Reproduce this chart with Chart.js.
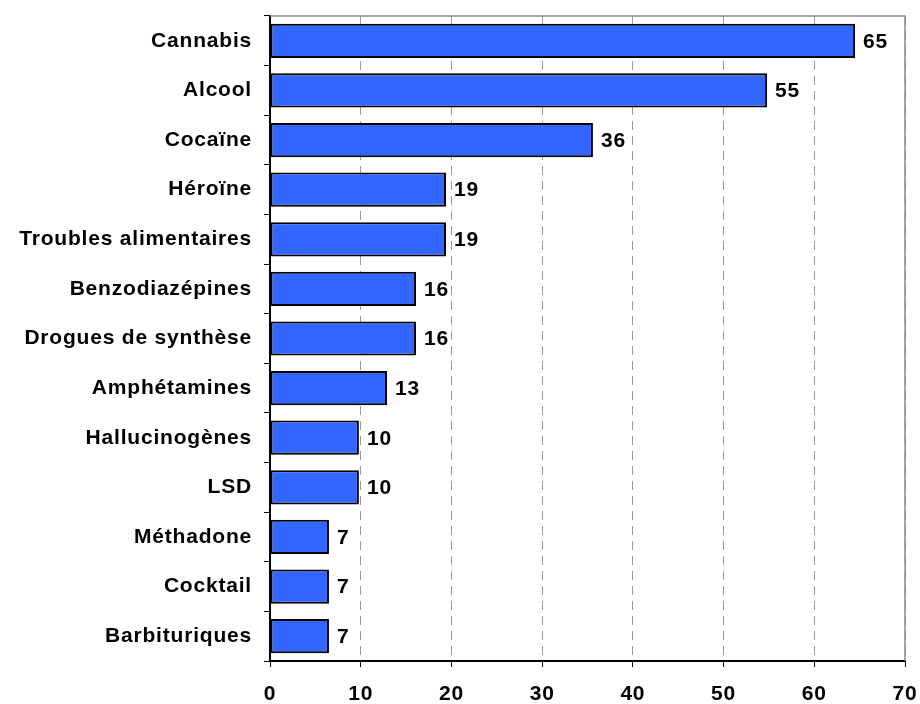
<!DOCTYPE html>
<html>
<head>
<meta charset="utf-8">
<script src="https://cdn.jsdelivr.net/npm/chart.js@4/dist/chart.umd.min.js"></script>
<style>
  html, body { margin: 0; padding: 0; background: #fff; }
  #wrap { width: 920px; height: 704px; }
</style>
</head>
<body>
<div id="wrap"><canvas id="chart" width="920" height="704"></canvas></div>
<script>
// catégories et valeurs (%)
const categories = ['Cannabis', 'Alcool', 'Cocaïne', 'Héroïne', 'Troubles alimentaires', 'Benzodiazépines',
  'Drogues de synthèse', 'Amphétamines', 'Hallucinogènes', 'LSD', 'Méthadone', 'Cocktail', 'Barbituriques'];
const values = [64.5, 54.8, 35.6, 19.4, 19.4, 16.1, 16.1, 12.9, 9.8, 9.8, 6.5, 6.5, 6.5];
const valueLabels = ['65', '55', '36', '19', '19', '16', '16', '13', '10', '10', '7', '7', '7'];
const xTicks = [0, 10, 20, 30, 40, 50, 60, 70];

const FONT = 'Arial, "Liberation Sans", sans-serif';

// léger espacement des lettres, comme l'original
const spacing = {
  id: 'spacing',
  beforeInit(chart) { chart.ctx.letterSpacing = '0.8px'; },
  beforeDraw(chart) { chart.ctx.letterSpacing = '0.8px'; }
};

// cadre gris du haut et de droite
const frame = {
  id: 'frame',
  beforeDatasetsDraw(chart) {
    const { ctx, chartArea: a } = chart;
    ctx.save();
    ctx.strokeStyle = '#8a8a8a';
    ctx.lineWidth = 1.5;
    ctx.beginPath();
    ctx.moveTo(a.left, a.top);
    ctx.lineTo(a.right, a.top);
    ctx.lineTo(a.right, a.bottom);
    ctx.stroke();
    ctx.restore();
  }
};

// étiquettes de valeur au bout des barres
const barLabels = {
  id: 'barLabels',
  afterDatasetsDraw(chart) {
    const { ctx } = chart;
    const meta = chart.getDatasetMeta(0);
    ctx.save();
    ctx.font = 'bold 21px ' + FONT;
    ctx.fillStyle = '#000';
    ctx.textBaseline = 'middle';
    ctx.textAlign = 'left';
    meta.data.forEach((bar, i) => {
      ctx.fillText(valueLabels[i], bar.x + 8, bar.y + 1);
    });
    ctx.restore();
  }
};

// pas de marge automatique autour des axes
function noPad(axis) {
  axis.paddingTop = 0;
  axis.paddingBottom = 0;
  axis.paddingLeft = 0;
  axis.paddingRight = 0;
}

new Chart(document.getElementById('chart'), {
  type: 'bar',
  data: {
    labels: categories,
    datasets: [{
      data: values,
      backgroundColor: '#3366ff',
      borderColor: '#000',
      borderWidth: 2,
      borderSkipped: false,
      barPercentage: 0.69,
      categoryPercentage: 1
    }]
  },
  options: {
    indexAxis: 'y',
    responsive: false,
    animation: false,
    layout: { padding: { top: 16, right: 15, left: 0, bottom: 0 } },
    plugins: { legend: { display: false }, tooltip: { enabled: false } },
    scales: {
      x: {
        min: 0, max: 70,
        afterBuildTicks: axis => { axis.ticks = xTicks.map(v => ({ value: v })); },
        afterFit: axis => { axis.height = 43; noPad(axis); },
        grid: {
          color: '#9a9a9a',
          lineWidth: 1,
          tickLength: 6,
          tickColor: '#000',
          tickBorderDash: []
        },
        border: { color: '#000', width: 2, dash: [9, 6] },
        ticks: { color: '#000', font: { family: FONT, size: 21, weight: 'bold' }, padding: 15 }
      },
      y: {
        afterFit: axis => { axis.width = 270; noPad(axis); },
        grid: { drawOnChartArea: false, tickLength: 6, color: '#000', offset: true },
        border: { color: '#000', width: 2 },
        ticks: { color: '#000', font: { family: FONT, size: 21, weight: 'bold' }, padding: 12 }
      }
    }
  },
  plugins: [spacing, frame, barLabels]
});
</script>
</body>
</html>
